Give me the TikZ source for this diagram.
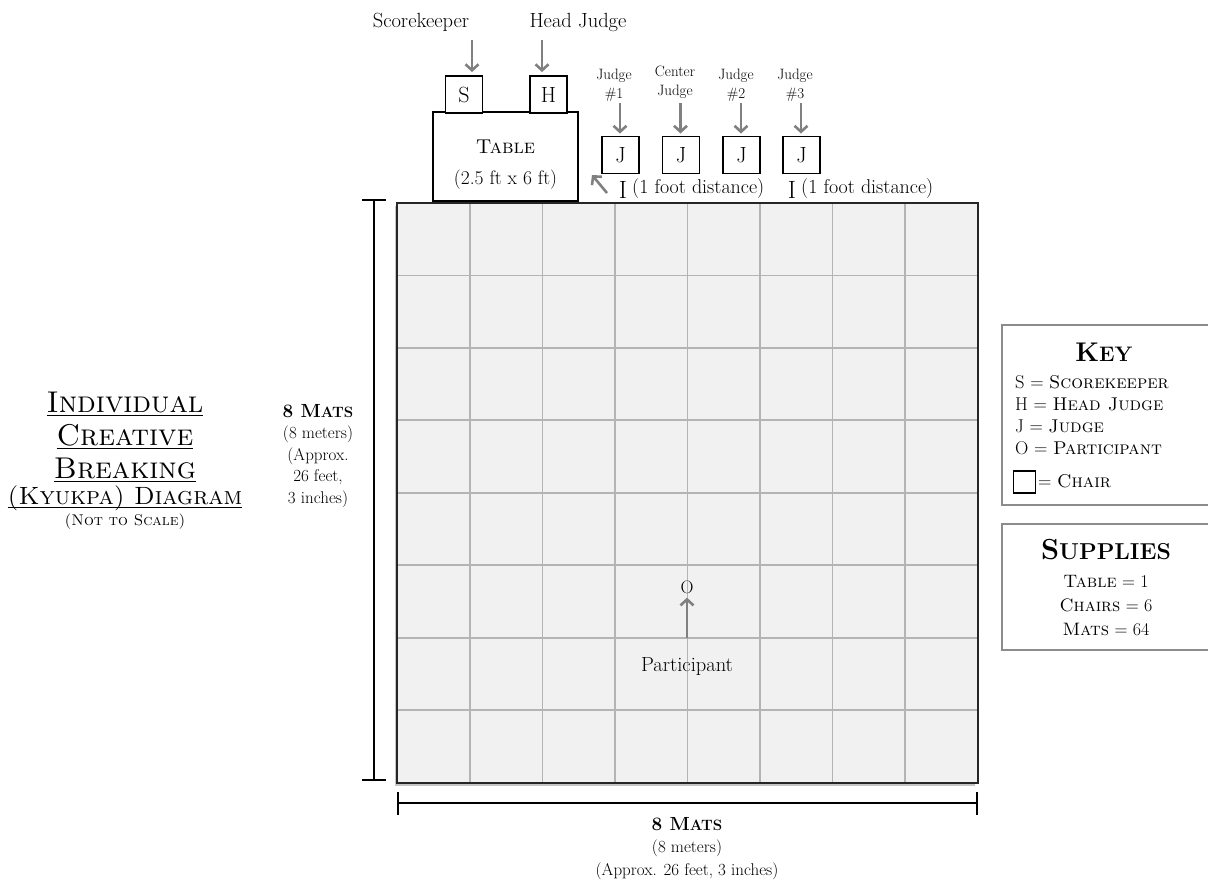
\documentclass[tikz,border=0pt]{standalone}
\usetikzlibrary{arrows.meta,shadows}
\definecolor{agray}{HTML}{808080}
\definecolor{matfill}{HTML}{F1F1F1}
\definecolor{gline}{HTML}{B4B4B4}
\definecolor{boxgray}{HTML}{8C8C8C}
\newcommand\fsz[2]{\fontsize{#1}{#2}\selectfont}
\newcommand\ulx[1]{\setbox0\hbox{#1}\rlap{\rule[-4pt]{\wd0}{1.6pt}}\box0}
\begin{document}
\begin{tikzpicture}[x=1pt,y=-1pt,
  chair/.style={draw, line width=1.9pt, minimum size=37pt, inner sep=0pt, font=\fsz{22}{26}},
  tablebox/.style={draw, line width=1.9pt, minimum width=145pt, minimum height=89pt, inner sep=0pt},
  garrow/.style={draw=agray, line width=2.6pt, -{Straight Barb[length=6pt,width=13pt]}},
  dimline/.style={draw=black, line width=2pt},
  lbl/.style={inner sep=0pt, font=\fsz{20.5}{24}},
  jlbl/.style={inner sep=0pt, align=center, font=\fsz{15}{19}},
  gridln/.style={draw=gline, line width=1.8pt},
  infobox/.style={draw=boxgray, line width=1.5pt},
  txt/.style={inner sep=0pt}
]
\useasboundingbox (0,0) rectangle (1208,884);
\fill[white] (0,0) rectangle (1208,884);

% mat
\node[fill=matfill, minimum width=580pt, minimum height=579.5pt, inner sep=0pt,
  drop shadow={shadow xshift=-2.5pt, shadow yshift=-3pt, opacity=.45}] (mat) at (687.5,492.75) {};
\foreach \i in {1,...,7} {
  \draw[gridln] ({397.5+72.5*\i},203) -- ({397.5+72.5*\i},782.5);
  \draw[gridln] (397.5,{203+72.44*\i}) -- (977.5,{203+72.44*\i});
}
\draw[line width=2.2pt, black!85] (mat.north west) rectangle (mat.south east);

% table and chairs
\node[tablebox] (table) at (505.5,156.5) {};
\node[txt, font=\fsz{20}{24}] (tabt) at (505.5,147) {\textsc{Table}};
\node[txt, font=\fsz{19.5}{22}] (tabd) at (505.5,180) {(2.5 ft x 6 ft)};
\node[chair, fill=white] (S) at (464,94.5) {S};
\node[chair, fill=white] (H) at (548.5,94.5) {H};
\node[lbl] (lS) at (421,22) {Scorekeeper};
\node[lbl] (lH) at (578,22) {Head Judge};
\draw[garrow] ([xshift=8pt]S.north |- 0,40) -- ([xshift=8pt,yshift=3pt]S.north);
\draw[garrow] ([xshift=-6.5pt]H.north |- 0,40) -- ([xshift=-6.5pt,yshift=3pt]H.north);

% judges
\node[chair] (J1) at (620.5,155) {J};
\node[chair] (JC) at (681,155) {J};
\node[chair] (J2) at (741.5,155) {J};
\node[chair] (J3) at (801.5,155) {J};
\node[jlbl] (lJ1) at (614,85) {Judge\\\#1};
\node[jlbl] (lJC) at (675,82) {Center\\Judge};
\node[jlbl] (lJ2) at (736,85) {Judge\\\#2};
\node[jlbl] (lJ3) at (795,85) {Judge\\\#3};
\foreach \j in {J1,JC,J2,J3} {
  \draw[garrow] ([xshift=-0.5pt]\j.north |- 0,103) -- ([xshift=-0.5pt,yshift=2pt]\j.north);
}

% one-foot distance markers
\node[txt, font=\fsz{25}{28}] (I1) at (623,190) {I};
\node[txt, font=\fsz{20}{22}, anchor=west] (d1) at (632,189) {(1 foot distance)};
\node[txt, font=\fsz{25}{28}] (I2) at (792,190) {I};
\node[txt, font=\fsz{20}{22}, anchor=west] (d2) at (801,189) {(1 foot distance)};
\coordinate (tcorner) at (592,175);
\draw[garrow] (607,193) -- (tcorner);

% participant
\node[txt, font=\fsz{18}{20}] (O) at (687,587) {O};
\node[lbl] (lP) at (687,666) {Participant};
\draw[garrow] (687,638) -- ([yshift=-4pt]O.south);

% left dimension
\coordinate (lt) at (374,200);
\coordinate (lb) at (374,780);
\draw[dimline] (lt) -- (lb);
\draw[dimline] ([xshift=-12pt]lt) -- ([xshift=12pt]lt);
\draw[dimline] ([xshift=-12pt]lb) -- ([xshift=12pt]lb);
\node[txt, align=center, font=\fsz{17}{21.5}] (ldim) at (318,456) {{\bfseries\fsz{19}{21.5}8 M\fsz{15}{21.5}ATS}\\(8 meters)\\(Approx.\\26 feet,\\3 inches)};

% bottom dimension
\coordinate (bl) at (397.5,803);
\coordinate (br) at (977,803);
\draw[dimline] (bl) -- (br);
\draw[dimline] ([yshift=11pt]bl) -- ([yshift=-12pt]bl);
\draw[dimline] ([yshift=11pt]br) -- ([yshift=-12pt]br);
\node[txt, font=\bfseries] (bdim1) at (687,824) {\fsz{19}{21}8 M\fsz{15}{21}ATS};
\node[txt, font=\fsz{17}{21}] (bdim2) at (687,848) {(8 meters)};
\node[txt, font=\fsz{17}{21}] (bdim3) at (687,871) {(Approx. 26 feet, 3 inches)};

% title
\node[txt, align=center, font=\fsz{30}{33}] (title) at (125,437) {\ulx{\textsc{Individual}}\\\ulx{\textsc{Creative}}\\\ulx{\textsc{Breaking}}};
\node[txt, font=\fsz{25}{28}] (title2) at (125,498) {\ulx{\textsc{(Kyukpa) Diagram}}};
\node[txt, font=\fsz{15.5}{18}] (nts) at (125,522) {\textsc{(Not to Scale)}};

% key box
\draw[infobox] (1002,325) rectangle (1209,505);
\node[txt, font=\bfseries] (keyt) at (1104,352) {\fsz{27}{30}K\fsz{21}{24}EY};
\begin{scope}[every node/.style={txt, anchor=base west, font=\fsz{18.5}{20}}]
\node (k1) at (1015,388) {S = \textsc{Scorekeeper}};
\node (k2) at (1015,410) {H = \textsc{Head Judge}};
\node (k3) at (1015,432) {J = \textsc{Judge}};
\node (k4) at (1015,454) {O = \textsc{Participant}};
\node (k5) at (1038,487) {= \textsc{Chair}};
\end{scope}
\node[draw, line width=1.5pt, minimum size=22pt, inner sep=0pt] (kchair) at (1024.5,482) {};

% supplies box
\draw[infobox] (1002,524) rectangle (1209,650);
\node[txt, font=\bfseries] (supt) at (1106,550) {\fsz{29}{30}S\fsz{23}{24}UPPLIES};
\begin{scope}[every node/.style={txt, anchor=base, font=\fsz{18}{20}}]
\node (s1) at (1106,587) {\textsc{Table} = 1};
\node (s2) at (1106,611) {\textsc{Chairs} = 6};
\node (s3) at (1106,635) {\textsc{Mats} = 64};
\end{scope}
\end{tikzpicture}
\end{document}
